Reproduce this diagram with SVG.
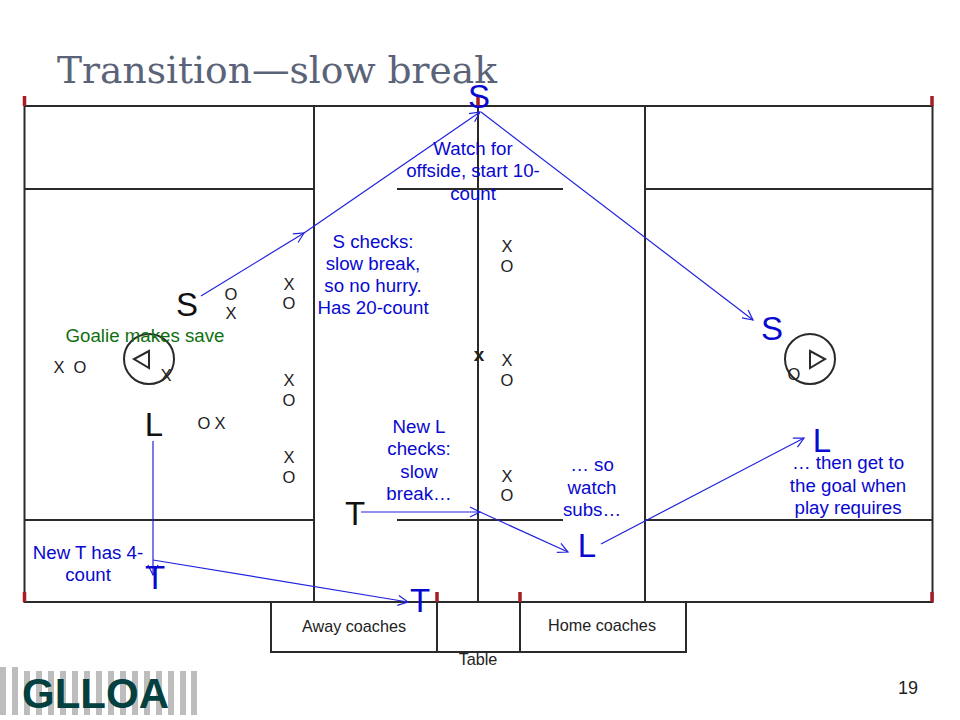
<svg xmlns="http://www.w3.org/2000/svg" width="960" height="720" viewBox="0 0 960 720">
<style>
text{font-family:"Liberation Sans",Arial,sans-serif;text-anchor:middle}
.f{fill:none;stroke:#2a2a2a;stroke-width:2}
.red{stroke:#a81c24;stroke-width:3.5;fill:none}
.c{fill:none;stroke:#2222dd;stroke-width:1.2}
.b{fill:#0808d0;font-size:18.700px}
.m{fill:#222;font-size:16.500px}
.p{fill:#111;font-size:33px}
.q{fill:#0808d0;font-size:33px}
.t{fill:#222;font-size:16.200px}
.bar{fill:#bdbdbd}
</style>
<defs><marker id="a" markerWidth="14" markerHeight="14" refX="11" refY="6" orient="auto" markerUnits="userSpaceOnUse"><path d="M1 1L11 6L1 11" fill="none" stroke="#2222dd" stroke-width="1.2"/></marker></defs>
<rect width="960" height="720" fill="#fff"/>
<text id="title" x="57" y="83" textLength="440" lengthAdjust="spacingAndGlyphs" style="text-anchor:start;font-family:'DejaVu Serif',serif;font-size:37px" fill="#5a6378">Transition—slow break</text>
<g id="field">
<rect class="f" x="24.500" y="106" width="908" height="496"/>
<path class="f" d="M314 106V602M645 106V602M478 106V602M24 189H314M645 189H932M24 520H314M645 520H932M397 189H563M397 520H563"/>
<path class="f" d="M271 602V652H686V602M437 602V652M520 602V652"/>
<path class="red" d="M24.500 96V106M932 96V106M24.500 592V602M932 592V602M437 592V602M520 592V602M478 96V106"/>
<circle class="f" cx="149" cy="359" r="25"/><path class="f" d="M149 351L134 359L149 368Z"/>
<circle class="f" cx="810" cy="359" r="25"/><path class="f" d="M810 351L825 359L810 368Z"/>
</g>
<g id="connectors">
<path class="c" d="M201 296L304 233" marker-end="url(#a)"/>
<path class="c" d="M304 233L480 112" marker-end="url(#a)"/>
<path class="c" d="M481 112L753 320" marker-end="url(#a)"/>
<path class="c" d="M153 441V575" marker-end="url(#a)"/>
<path class="c" d="M153 560L408 602" marker-end="url(#a)"/>
<path class="c" d="M361 512H480" marker-end="url(#a)"/>
<path class="c" d="M480 512L568 552" marker-end="url(#a)"/>
<path class="c" d="M601 544L804 438" marker-end="url(#a)"/>
</g>
<g id="players">
<text class="p" x="187" y="316">S</text><text class="p" x="154" y="436">L</text><text class="p" x="355" y="525">T</text>
<text class="q" x="479" y="108">S</text><text class="q" x="772" y="340">S</text><text class="q" x="822" y="452">L</text><text class="q" x="587" y="557">L</text><text class="q" x="155" y="589">T</text><text class="q" x="420" y="612">T</text>
</g>
<g id="marks">
<text class="m" x="231" y="300">O</text><text class="m" x="231" y="319">X</text>
<text class="m" x="289" y="290">X</text><text class="m" x="289" y="309">O</text>
<text class="m" x="289" y="386">X</text><text class="m" x="289" y="406">O</text>
<text class="m" x="289" y="463">X</text><text class="m" x="289" y="483">O</text>
<text class="m" x="507" y="252">X</text><text class="m" x="507" y="272">O</text>
<text class="m" x="507" y="366">X</text><text class="m" x="507" y="386">O</text>
<text class="m" x="507" y="482">X</text><text class="m" x="507" y="501">O</text>
<text class="m" x="59" y="373">X</text><text class="m" x="80" y="373">O</text>
<text class="m" x="166" y="381">X</text>
<text class="m" x="204" y="429">O</text><text class="m" x="220" y="429">X</text>
<text class="m" x="794" y="380">O</text>
<text x="479" y="361" style="font-size:19px;font-weight:bold" fill="#222">x</text>
</g>
<g id="labels">
<text x="145" y="342" style="font-size:18.700px" fill="#107010">Goalie makes save</text>
<text class="b" x="473" y="155">Watch for</text><text class="b" x="473" y="177">offside, start 10-</text><text class="b" x="473" y="200">count</text>
<text class="b" x="373" y="248">S checks:</text><text class="b" x="373" y="270">slow break,</text><text class="b" x="373" y="292">so no hurry.</text><text class="b" x="373" y="314">Has 20-count</text>
<text class="b" x="419" y="433">New L</text><text class="b" x="419" y="455">checks:</text><text class="b" x="419" y="478">slow</text><text class="b" x="419" y="500">break…</text>
<text class="b" x="592" y="471">… so</text><text class="b" x="592" y="494">watch</text><text class="b" x="592" y="516">subs…</text>
<text class="b" x="848" y="469">… then get to</text><text class="b" x="848" y="492">the goal when</text><text class="b" x="848" y="514">play requires</text>
<text class="b" x="88" y="559">New T has 4-</text><text class="b" x="88" y="581">count</text>
<text class="t" x="354" y="632">Away coaches</text>
<text class="t" x="602" y="631">Home coaches</text>
<text class="t" x="478" y="665">Table</text>
<text x="908" y="694" style="font-size:18px" fill="#222">19</text>
</g>
<g id="logo">
<rect class="bar" x="0" y="667" width="6" height="48"/><rect class="bar" x="12" y="667" width="6" height="48"/>
<rect class="bar" x="24" y="671" width="6" height="44"/><rect class="bar" x="36" y="671" width="6" height="44"/><rect class="bar" x="48" y="671" width="6" height="44"/><rect class="bar" x="60" y="671" width="6" height="44"/><rect class="bar" x="72" y="671" width="6" height="44"/><rect class="bar" x="84" y="671" width="6" height="44"/><rect class="bar" x="96" y="671" width="6" height="44"/><rect class="bar" x="108" y="671" width="6" height="44"/><rect class="bar" x="120" y="671" width="6" height="44"/><rect class="bar" x="132" y="671" width="6" height="44"/><rect class="bar" x="144" y="671" width="6" height="44"/><rect class="bar" x="156" y="671" width="6" height="44"/><rect class="bar" x="168" y="671" width="6" height="44"/><rect class="bar" x="180" y="671" width="6" height="44"/><rect class="bar" x="191" y="671" width="6" height="44"/>
<text x="95.500" y="708" style="font-size:42px;font-weight:bold" fill="#04403f">GLLOA</text>
</g>
</svg>
